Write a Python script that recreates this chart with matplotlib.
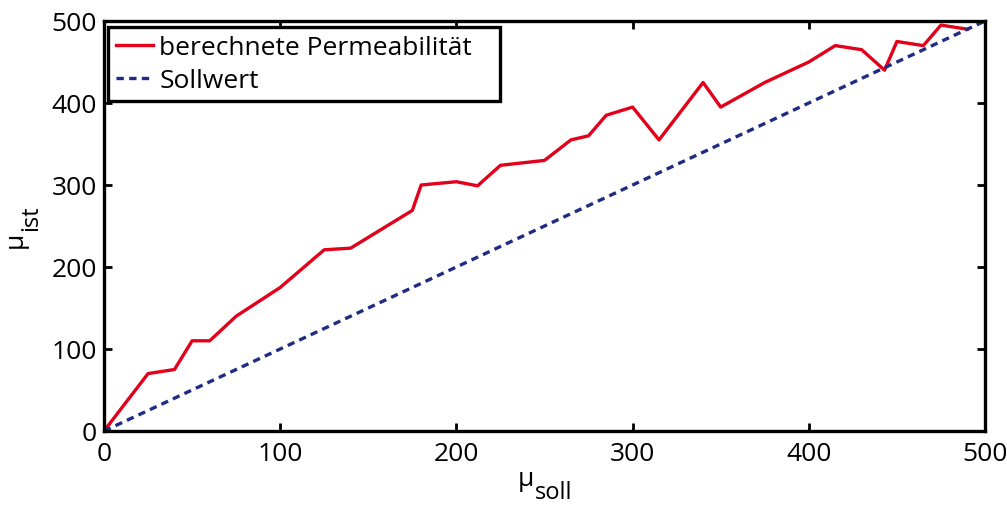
import matplotlib
matplotlib.use("Agg")
import matplotlib.pyplot as plt

plt.rcParams['font.family'] = ['Open Sans', 'DejaVu Sans']

mu_soll = [0, 25, 40, 50, 60, 75, 100, 125, 140, 175, 180, 200, 212, 225, 250,
           265, 275, 285, 300, 315, 340, 350, 375, 400, 415, 430, 443, 450, 465, 475, 490]
mu_ist = [0, 70, 75, 110, 110, 140, 175, 221, 223, 269, 300, 304, 299, 324, 330,
          355, 360, 385, 395, 355, 425, 395, 425, 450, 470, 465, 440, 475, 470, 495, 490]
soll_x = [0, 500]
soll_y = [0, 500]
ticks = [0, 100, 200, 300, 400, 500]

W, H = 1007, 506
fig = plt.figure(figsize=(W / 100, H / 100), dpi=100)
ax = fig.add_axes([104 / W, 1 - 432 / H, 881 / W, 410 / H])

ax.plot(mu_soll, mu_ist, color='#E2001A', lw=2.4, label='berechnete Permeabilität')
ax.plot(soll_x, soll_y, color='#1F2B84', lw=2.4, ls=(0, (2.2, 1.6)), label='Sollwert')

ax.set_xlim(0, 500)
ax.set_ylim(0, 500)
ax.set_xticks(ticks)
ax.set_yticks(ticks)
ax.tick_params(axis='both', direction='in', length=6, width=2, top=True, right=True,
               labelsize=19, colors='black')
ax.tick_params(axis='x', pad=7)
ax.tick_params(axis='y', pad=5)
for s in ax.spines.values():
    s.set_linewidth(2.4)

# axis labels (mu with full-size lowered subscript)
fig.text(518 / W, 1 - 486 / H, 'μ', fontsize=19, ha='left', va='baseline')
fig.text(535 / W, 1 - 499 / H, 'soll', fontsize=17, ha='left', va='baseline')
fig.text(28 / W, 1 - 240 / H, 'μ', fontsize=19, rotation=90, ha='right',
         va='center', rotation_mode='default')
fig.text(43 / W, 1 - 218 / H, 'ist', fontsize=17, rotation=90, ha='right',
         va='center', rotation_mode='default')

y_top = (432 - 28) / 410
h_leg = 73 / 410
leg = ax.legend(loc='upper left', bbox_to_anchor=(4 / 881, y_top - h_leg, 392 / 881, h_leg),
                mode='expand', fontsize=19, frameon=True, fancybox=False,
                handlelength=1.4, handletextpad=0.25, borderpad=0.3,
                labelspacing=0.3, borderaxespad=0.0)
leg.get_frame().set_edgecolor('black')
leg.get_frame().set_linewidth(2.4)
leg.get_frame().set_alpha(1)

fig.savefig('out.png', dpi=100)
